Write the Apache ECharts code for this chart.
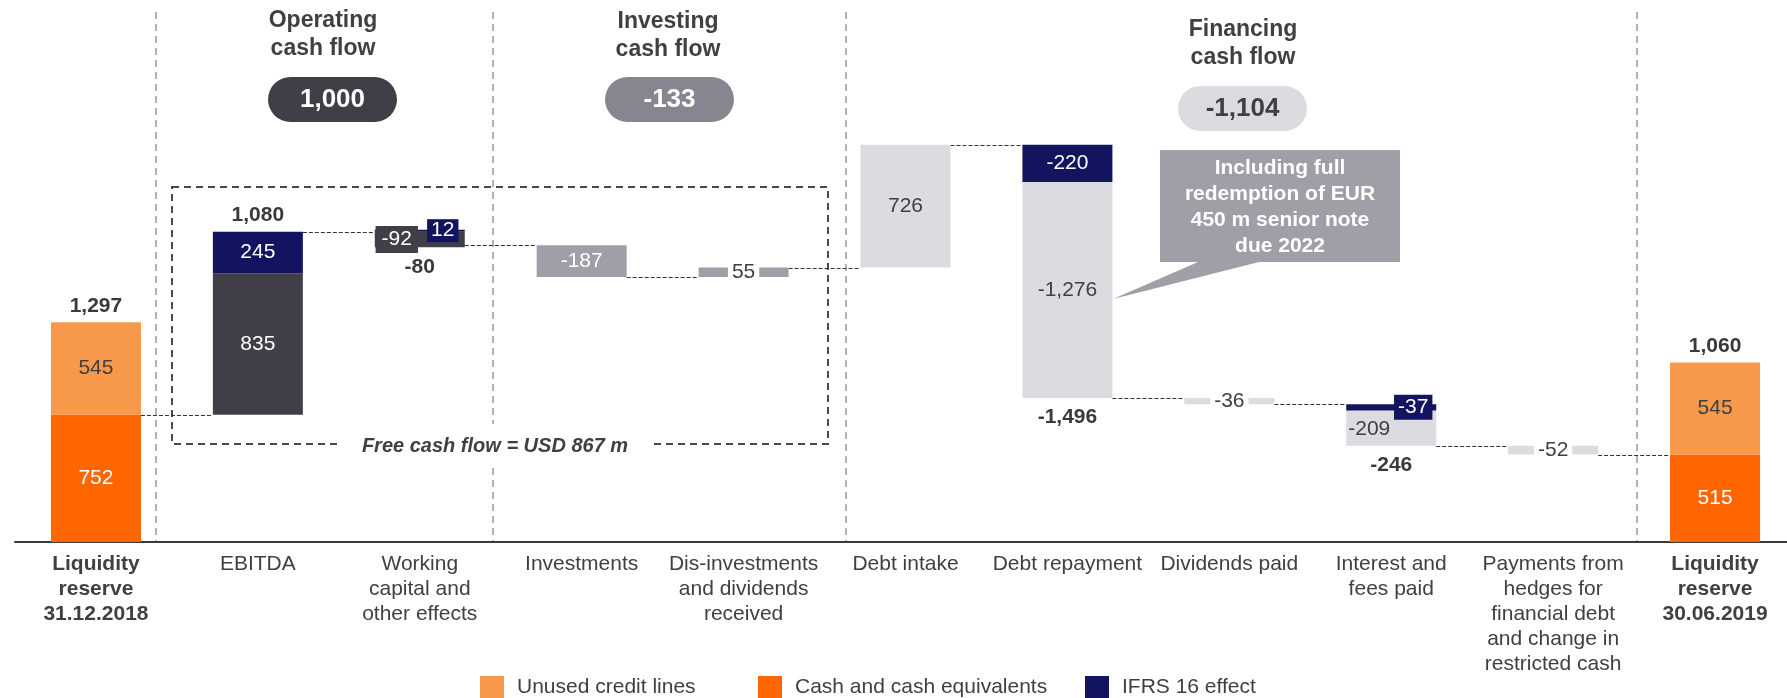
<!DOCTYPE html>
<html>
<head>
<meta charset="utf-8">
<style>
  html, body { margin: 0; padding: 0; background: #fff; }
  #chart { width: 1787px; height: 698px; }
</style>
<script src="https://cdn.jsdelivr.net/npm/echarts@6/dist/echarts.min.js"></script>
</head>
<body>
<div id="chart"></div>
<script>
// liquidity bridge, USD m
const categories = [
  'Liquidity\nreserve\n31.12.2018',
  'EBITDA',
  'Working\ncapital and\nother effects',
  'Investments',
  'Dis-investments\nand dividends\nreceived',
  'Debt intake',
  'Debt repayment',
  'Dividends paid',
  'Interest and\nfees paid',
  'Payments from\nhedges for\nfinancial debt\nand change in\nrestricted cash',
  'Liquidity\nreserve\n30.06.2019'
];
const unusedCredit = [545, 0, 0, 0, 0, 0, 0, 0, 0, 0, 545];
const cashEquiv    = [752, 0, 0, 0, 0, 0, 0, 0, 0, 0, 515];
const operating    = [0, 835, -92, 0, 0, 0, 0, 0, 0, 0, 0];
const investing    = [0, 0, 0, -187, 55, 0, 0, 0, 0, 0, 0];
const financing    = [0, 0, 0, 0, 0, 726, -1276, -36, -209, -52, 0];
const ifrs16       = [0, 245, 12, 0, 0, 0, -220, 0, -37, 0, 0];
const totals       = [1297, 1080, -80, null, null, null, -1496, null, -246, null, 1060];
const sectionTotals = ['1,000', '-133', '-1,104'];

const FONT = '"Liberation Sans", Arial, sans-serif';
const TXT = '#404040';
const BAR_W = 90;
const BAR_RATIO = 90 / 161.9;

// waterfall offsets: each step sits on the running cash level
const flows = [operating, investing, financing, ifrs16];
const base = [];
const levels = [];
let level = cashEquiv[0];
categories.forEach((c, i) => {
  if (i === 0 || i === categories.length - 1) {
    base.push(0);
    if (i === 0) levels.push(level);
    return;
  }
  let neg = 0, net = 0;
  flows.forEach(s => { if (s[i] < 0) neg += s[i]; net += s[i]; });
  base.push(level + neg);
  level += net;
  levels.push(level);
});
const stackTop = i => base[i] + [unusedCredit, cashEquiv, ...flows].reduce((a, s) => a + Math.abs(s[i]), 0);

const fmt = v => v.toLocaleString('en-US');

function barSeries(name, arr, color, labelColor, tweaks) {
  return {
    name, type: 'bar', stack: 'w', barWidth: BAR_W, z: 3,
    itemStyle: { color },
    label: {
      show: true, position: 'inside', color: labelColor, fontSize: 21, fontFamily: FONT,
      formatter: p => (p.data.signed ? fmt(p.data.signed) : '')
    },
    data: arr.map((v, i) => {
      const item = { value: Math.abs(v), signed: v };
      if (tweaks && tweaks[i]) item.label = tweaks[i];
      return item;
    })
  };
}

const whiteGap = { backgroundColor: '#fff', padding: [0, 4], color: TXT };

const chart = echarts.init(document.getElementById('chart'));
chart.setOption({
  animation: false,
  textStyle: { fontFamily: FONT },
  grid: { left: 15, top: 0, width: 1781, height: 542, outerBoundsMode: 'none', containLabel: false },
  xAxis: {
    type: 'category',
    data: categories,
    axisTick: { show: false },
    axisLine: { lineStyle: { color: '#3a3a3a', width: 2 } },
    axisLabel: {
      interval: 0, margin: 10, fontSize: 21, lineHeight: 25, color: TXT,
      formatter: (v, i) => (i === 0 || i === categories.length - 1)
        ? v.split('\n').map(s => '{b|' + s + '}').join('\n') : v,
      rich: { b: { fontWeight: 'bold', fontSize: 21, lineHeight: 25, color: TXT } }
    }
  },
  yAxis: { type: 'value', min: 0, max: 3200, show: false, splitLine: { show: false } },
  legend: [
    { data: ['Unused credit lines'], left: 480 },
    { data: ['Cash and cash equivalents'], left: 758 },
    { data: ['IFRS 16 effect'], left: 1085 }
  ].map(l => Object.assign({
    top: 676, icon: 'rect', itemWidth: 24, itemHeight: 22, padding: 0, selectedMode: false,
    textStyle: { fontSize: 21, color: TXT, padding: [0, 0, 0, 8] }
  }, l)),
  series: [
    {
      name: 'base', type: 'bar', stack: 'w', barWidth: BAR_W, silent: true,
      itemStyle: { color: 'transparent' }, data: base
    },
    barSeries('Cash and cash equivalents', cashEquiv, '#ff6600', '#fff'),
    barSeries('Unused credit lines', unusedCredit, '#f7984a', TXT),
    barSeries('Operating', operating, '#403f48', '#fff', {
      2: { offset: [-23, 0], backgroundColor: '#403f48', padding: [3, 6] }
    }),
    barSeries('Investing', investing, '#a09fa8', '#fff', { 4: whiteGap }),
    barSeries('Financing', financing, '#dbdbe0', TXT, {
      7: whiteGap,
      8: { offset: [-22, 1] },
      9: whiteGap
    }),
    barSeries('IFRS 16 effect', ifrs16, '#13145f', '#fff', {
      2: { offset: [23, 0], backgroundColor: '#13145f', padding: [1, 4] },
      8: { offset: [22, 0], backgroundColor: '#13145f', padding: [2, 4] }
    }),
    {
      name: 'connectors', type: 'custom', z: 1, silent: true,
      data: levels.map((v, i) => [i, v]),
      renderItem(params, api) {
        const i = api.value(0), v = api.value(1);
        const a = api.coord([i, v]), b = api.coord([i + 1, v]);
        const half = api.size([1, 0])[0] * BAR_RATIO / 2;
        return {
          type: 'line',
          shape: { x1: a[0] + half, y1: Math.round(a[1]) + 0.5, x2: b[0] - half, y2: Math.round(b[1]) + 0.5 },
          style: { stroke: '#333', lineWidth: 1, lineDash: [4, 2] }
        };
      }
    },
    {
      name: 'totals', type: 'scatter', symbolSize: 0.1, z: 5, silent: true,
      itemStyle: { color: 'rgba(0,0,0,0)', opacity: 1 },
      data: totals.map((t, i) => t == null ? null : {
        value: [i, t < 0 ? base[i] : stackTop(i)],
        total: t,
        label: { position: t < 0 ? 'bottom' : 'top', distance: t < 0 ? 9 : 6 }
      }).filter(Boolean),
      label: {
        show: true, fontSize: 21, fontWeight: 'bold', color: '#3a3a3a', opacity: 1, fontFamily: FONT,
        formatter: p => fmt(p.data.total)
      }
    }
  ],
  graphic: {
    elements: [
      // section separators
      ...[156, 493, 846, 1637].map(x => ({
        type: 'line', z: 0, silent: true,
        shape: { x1: x, y1: 12, x2: x, y2: 541 },
        style: { stroke: '#b3b3b3', lineWidth: 2, lineDash: [7, 5] }
      })),
      // free cash flow box
      {
        type: 'rect', z: 0, silent: true,
        shape: { x: 172, y: 187, width: 656, height: 257 },
        style: { fill: null, stroke: '#4a4a4a', lineWidth: 2, lineDash: [7, 5] }
      },
      {
        type: 'text', z: 10, silent: true,
        style: {
          text: 'Free cash flow = USD 867 m', x: 495, y: 446, align: 'center', verticalAlign: 'middle',
          fontSize: 20, fontWeight: 'bold', fontStyle: 'italic', fontFamily: FONT, fill: TXT,
          backgroundColor: '#fff', padding: [12, 22]
        }
      },
      // section headers
      ...[
        ['Operating\ncash flow', 323, 35],
        ['Investing\ncash flow', 668, 36],
        ['Financing\ncash flow', 1243, 44]
      ].map(([t, x, y]) => ({
        type: 'text', z: 10, silent: true,
        style: {
          text: t, x, y, align: 'center', verticalAlign: 'middle', lineHeight: 28,
          fontSize: 23, fontWeight: 'bold', fontFamily: FONT, fill: TXT
        }
      })),
      // section total pills
      ...[
        [268, 77, '#403f48', '#fff', sectionTotals[0]],
        [605, 77, '#87858f', '#fff', sectionTotals[1]],
        [1178, 86, '#dcdce0', TXT, sectionTotals[2]]
      ].flatMap(([x, y, bg, fg, t]) => [
        {
          type: 'rect', z: 10, silent: true,
          shape: { x, y, width: 129, height: 45, r: 22.5 },
          style: { fill: bg }
        },
        {
          type: 'text', z: 11, silent: true,
          style: {
            text: t, x: x + 64.5, y: y + 23, align: 'center', verticalAlign: 'middle',
            fontSize: 26, fontWeight: 'bold', fontFamily: FONT, fill: fg
          }
        }
      ]),
      // callout
      {
        type: 'polygon', z: 10, silent: true,
        shape: { points: [[1160, 150], [1400, 150], [1400, 262], [1259, 262], [1113, 299], [1198, 262], [1160, 262]] },
        style: { fill: '#a09fa8' }
      },
      {
        type: 'text', z: 11, silent: true,
        style: {
          text: 'Including full\nredemption of EUR\n450 m senior note\ndue 2022',
          x: 1280, y: 207, align: 'center', verticalAlign: 'middle', lineHeight: 26,
          fontSize: 21, fontWeight: 'bold', fontFamily: FONT, fill: '#fff'
        }
      }
    ]
  }
});
</script>
</body>
</html>
